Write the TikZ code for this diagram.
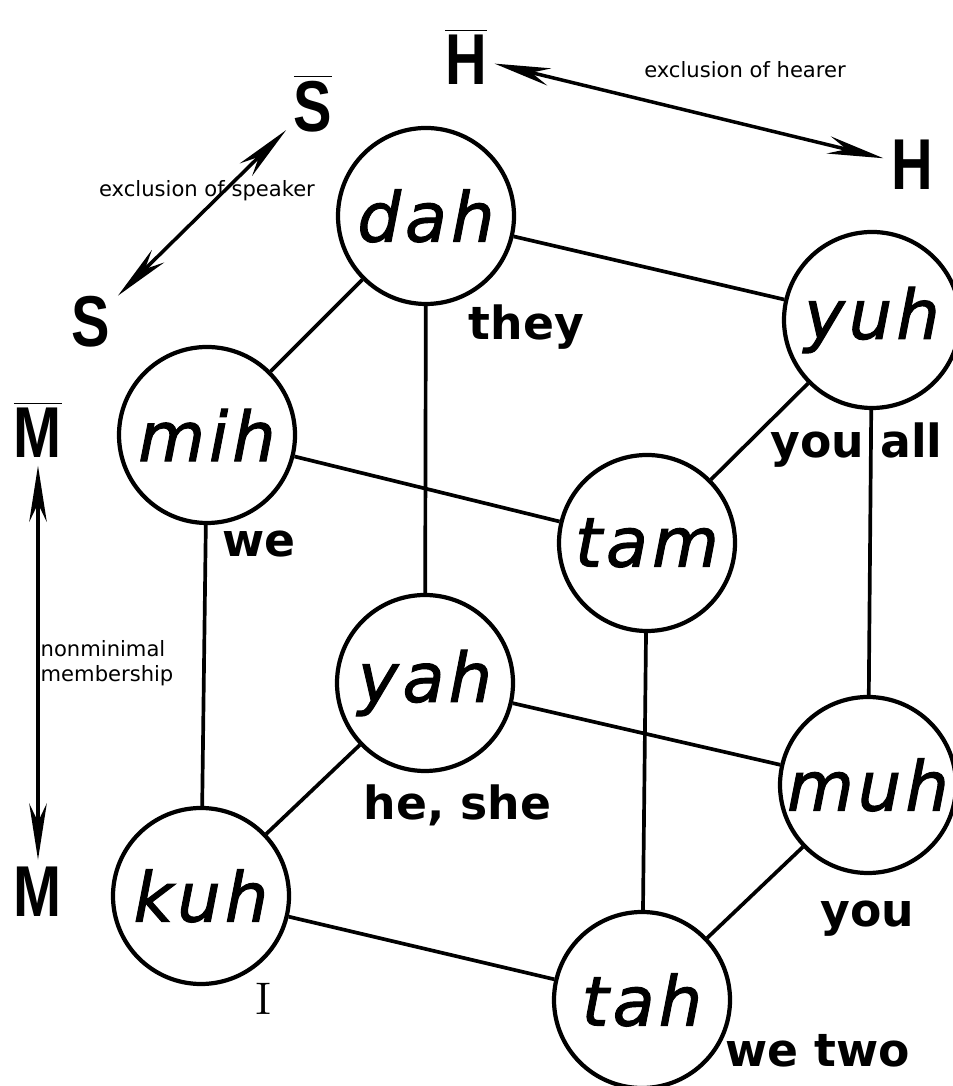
\documentclass[tikz,border=0pt]{standalone}
\usepackage{fontspec}
\usepackage{graphicx}
\usetikzlibrary{arrows.meta}
\newfontfamily\formfont[FakeBold=1.5,LetterSpace=6]{DejaVu Sans}
\newfontfamily\glossfont{DejaVu Sans}
\newfontfamily\polefont{Liberation Sans}
\newcommand{\poleltr}[1]{\scalebox{0.8}[1]{#1}}
\newcommand{\polebar}[1]{$\overline{\mbox{\poleltr{#1}}}$}

\begin{document}
\begin{tikzpicture}[
			form/.style={
				circle,
				draw,
				line width=1.2pt,
				minimum size=1.76cm,
				inner sep=0pt,
				font=\formfont\itshape\fontsize{19.5}{20}\selectfont
			},
			edge/.style={
				line width=1.05pt
			},
			gloss/.style={
				anchor=base west,
				inner sep=0pt,
				font=\glossfont\bfseries\fontsize{13}{14}\selectfont
			},
			pole/.style={
				anchor=base,
				inner sep=2pt,
				font=\polefont\bfseries\fontsize{20.5}{21}\selectfont
			},
			axis/.style={
				line width=1pt,
				<->,
				>={Stealth[length=16pt,width=5pt]}
			},
			note/.style={
				inner sep=0pt,
				font=\glossfont\fontsize{6}{7.2}\selectfont
			}
			]
			\useasboundingbox (0,0) rectangle (9.52,10.86);

			\node[form] (dah) at (4.26,8.70) {dah};
			\node[form] (yuh) at (8.72,7.66) {yuh};
			\node[form] (mih) at (2.07,6.51) {mih};
			\node[form] (tam) at (6.47,5.43) {tam};
			\node[form] (yah) at (4.25,4.03) {yah};
			\node[form] (muh) at (8.68,3.01) {muh};
			\node[form] (kuh) at (2.01,1.90) {kuh};
			\node[form] (tah) at (6.42,0.86) {tah};

			\draw[edge] (dah) -- (yuh);
			\draw[edge] (dah) -- (mih);
			\draw[edge] (dah) -- (yah);
			\draw[edge] (mih) -- (tam);
			\draw[edge] (mih) -- (kuh);
			\draw[edge] (yuh) -- (tam);
			\draw[edge] (yuh) -- (muh);
			\draw[edge] (tam) -- (tah);
			\draw[edge] (yah) -- (muh);
			\draw[edge] (yah) -- (kuh);
			\draw[edge] (kuh) -- (tah);
			\draw[edge] (muh) -- (tah);

			\node[gloss] (they) at (4.68,7.46) {they};
			\node[gloss] (youall) at (7.70,6.28) {you all};
			\node[gloss] (we) at (2.22,5.29) {we};
			\node[gloss] (heshe) at (3.63,2.66) {he, she};
			\node[gloss] (you) at (8.20,1.59) {you};
			\node[gloss] (wetwo) at (7.25,0.19) {we two};
			\node[anchor=base, inner sep=0pt, font=\fontsize{13}{14}\selectfont] (i) at (2.64,0.71) {I};

			\node[pole] (Sbar) at (3.13,9.54) {\polebar{S}};
			\node[pole] (S) at (0.91,7.39) {\poleltr{S}};
			\node[pole] (Hbar) at (4.66,10.01) {\polebar{H}};
			\node[pole] (H) at (9.12,8.96) {\poleltr{H}};
			\node[pole] (Mbar) at (0.38,6.28) {\polebar{M}};
			\node[pole] (M) at (0.38,1.69) {\poleltr{M}};

			\draw[axis] (S) -- (Sbar);
			\draw[axis] (Hbar) -- (H);
			\draw[axis] (Mbar) -- (M);

			\node[note, anchor=base] (speaker) at (2.07,8.89) {exclusion of speaker};
			\node[note, anchor=base] (hearer) at (7.45,10.08) {exclusion of hearer};
			\node[note, anchor=west, align=left] (member) at (0.40,4.23) {nonminimal\\membership};
		\end{tikzpicture}
\end{document}
